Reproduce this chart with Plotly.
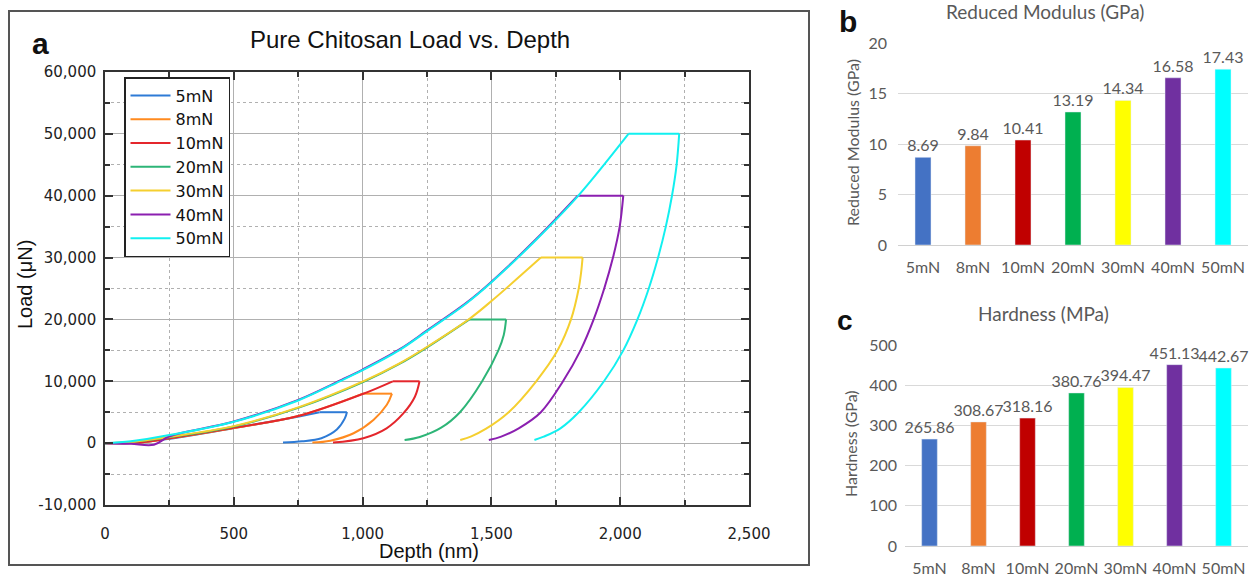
import plotly.graph_objects as go

W, H = 1255, 578

# ---------------- data: panel a (load vs depth) ----------------
series_names = ["5mN", "8mN", "10mN", "20mN", "30mN", "40mN", "50mN"]
line_colors = ["#2E7BD6", "#FF8A1F", "#E4262C", "#2DB577", "#F5CF2F", "#8B1FB0", "#12F0F0"]

d5_load = [0, 120, 252, 490, 700, 833]
p5_load = [0, 50, 700, 2350, 3900, 5000]
d5_unload = [939, 931, 900, 840, 765, 691]
p5_unload = [5000, 4000, 2200, 800, 300, 100]

d8_load = [0, 120, 252, 490, 750, 1001]
p8_load = [0, 50, 780, 2380, 4380, 8000]
d8_unload = [1114, 1094, 1042, 965, 875, 805]
p8_unload = [8000, 6200, 3750, 1600, 400, 100]

d10_load = [0, 120, 252, 490, 750, 1000, 1117]
p10_load = [0, 50, 800, 2400, 4400, 7950, 10000]
d10_unload = [1221, 1203, 1158, 1093, 1003, 885]
p10_unload = [10000, 7500, 4800, 2400, 800, 100]

d20_load = [0, 100, 250, 500, 750, 1008, 1143, 1240, 1415]
p20_load = [0, 180, 950, 2680, 5700, 10000, 12800, 15200, 20000]
d20_unload = [1557, 1548, 1527, 1464, 1378, 1305, 1222, 1163]
p20_unload = [20000, 17500, 15000, 10000, 5000, 2500, 1000, 500]

d30_load = [0, 100, 250, 500, 750, 1008, 1143, 1240, 1415, 1505, 1692]
p30_load = [0, 200, 1020, 2750, 5780, 10100, 12900, 15300, 20100, 23140, 30000]
d30_unload = [1854, 1848, 1839, 1809, 1757, 1674, 1567, 1478, 1422, 1379]
p30_unload = [30000, 27500, 25000, 20000, 15000, 10000, 5000, 2300, 1100, 500]

d40_load = [0, 100, 190, 250, 500, 750, 911, 1000, 1143, 1253, 1400, 1495, 1673, 1835]
p40_load = [0, -100, -250, 1100, 3500, 7000, 10100, 11900, 15150, 18300, 22600, 25900, 32950, 40000]
d40_unload = [2012, 1998, 1972, 1938, 1897, 1846, 1778, 1692, 1606, 1538, 1490]
p40_unload = [40000, 35000, 30000, 25000, 20000, 15000, 10000, 5000, 2400, 1050, 500]

d50_load = [0, 100, 250, 500, 750, 911, 1000, 1143, 1253, 1400, 1495, 1673, 1835, 2032]
p50_load = [0, 300, 1300, 3450, 6900, 10000, 11800, 15050, 18200, 22500, 25800, 32850, 39900, 50000]
d50_unload = [2229, 2219, 2201, 2177, 2147, 2111, 2067, 2012, 1937, 1839, 1768, 1703, 1667]
p50_unload = [50000, 45000, 40000, 35000, 30000, 25000, 20000, 15000, 10000, 5000, 2400, 1050, 500]

loads_d = [d5_load, d8_load, d10_load, d20_load, d30_load, d40_load, d50_load]
loads_p = [p5_load, p8_load, p10_load, p20_load, p30_load, p40_load, p50_load]
unloads_d = [d5_unload, d8_unload, d10_unload, d20_unload, d30_unload, d40_unload, d50_unload]
unloads_p = [p5_unload, p8_unload, p10_unload, p20_unload, p30_unload, p40_unload, p50_unload]

x_ticks = [0, 500, 1000, 1500, 2000, 2500]
y_ticks = [-10000, 0, 10000, 20000, 30000, 40000, 50000, 60000]
y_ticktext = ["-10,000", "0", "10,000", "20,000", "30,000", "40,000", "50,000", "60,000"]

# ---------------- data: panels b and c ----------------
categories = ["5mN", "8mN", "10mN", "20mN", "30mN", "40mN", "50mN"]
bar_colors = ["#4472C4", "#ED7D31", "#C00000", "#00B050", "#FFFF00", "#7030A0", "#00FFFF"]
reduced_modulus = [8.69, 9.84, 10.41, 13.19, 14.34, 16.58, 17.43]
hardness = [265.86, 308.67, 318.16, 380.76, 394.47, 451.13, 442.67]


def px_x(p):
    return p / W


def px_y(p):
    return 1 - p / H


fig = go.Figure()

for i, name in enumerate(series_names):
    ld, lp = loads_d[i], loads_p[i]
    ud, up = unloads_d[i], unloads_p[i]
    xs = ld + [None] + [ld[-1], ud[0]] + [None] + ud
    ys = lp + [None] + [lp[-1], up[0]] + [None] + up
    fig.add_trace(go.Scatter(
        x=xs, y=ys, mode="lines", name=name, connectgaps=False,
        line=dict(color=line_colors[i], width=2, shape="spline", smoothing=1.0),
        xaxis="x", yaxis="y",
    ))

for vals, xa, ya in [(reduced_modulus, "x2", "y2"), (hardness, "x3", "y3")]:
    fig.add_trace(go.Bar(
        x=categories, y=vals, marker_color=bar_colors, width=0.32,
        texttemplate="%{y:.2f}", textposition="outside", cliponaxis=False,
        constraintext="none",
        textfont=dict(family="Lato", size=16, color="#595959"),
        showlegend=False, xaxis=xa, yaxis=ya,
    ))

axis_a_common = dict(
    showline=True, linecolor="#333333", linewidth=1.5, mirror="ticks",
    ticks="inside", ticklen=8, tickwidth=1.5, tickcolor="#333333",
    showgrid=True, gridcolor="#b0b0b0", gridwidth=1, zeroline=False,
    tickfont=dict(family="DejaVu Sans", size=15, color="#222222"),
    automargin=False,
)

bar_tick_font = dict(family="Lato", size=16, color="#595959")

fig.update_layout(
    width=W, height=H,
    margin=dict(l=0, r=0, t=0, b=0, pad=0, autoexpand=False),
    paper_bgcolor="white", plot_bgcolor="white",
    showlegend=True,
    legend=dict(
        x=px_x(124), y=px_y(77), xanchor="left", yanchor="top",
        bgcolor="white", bordercolor="#222222", borderwidth=1.5,
        font=dict(family="DejaVu Sans", size=16, color="#111111"),
        tracegroupgap=0, itemwidth=40,
    ),
    xaxis=dict(
        domain=[px_x(105), px_x(749)], range=[0, 2500],
        tickmode="array", tickvals=x_ticks, tickformat=",",
        ticklabelstandoff=14,
        minor=dict(tickmode="array", tickvals=[250, 750, 1250, 1750, 2250],
                   ticks="inside", ticklen=5, tickcolor="#333333",
                   showgrid=True, gridcolor="#b0b0b0", griddash="dot"),
        anchor="y",
        **axis_a_common,
    ),
    yaxis=dict(
        domain=[px_y(505), px_y(72)], range=[-10000, 60000],
        tickmode="array", tickvals=y_ticks, ticktext=y_ticktext,
        ticklabelstandoff=4,
        minor=dict(tickmode="array",
                   tickvals=[-5000, 5000, 15000, 25000, 35000, 45000, 55000],
                   ticks="inside", ticklen=5, tickcolor="#333333",
                   showgrid=True, gridcolor="#b0b0b0", griddash="dot"),
        anchor="x",
        **axis_a_common,
    ),
    xaxis2=dict(
        domain=[px_x(898), px_x(1248)], anchor="y2", automargin=False,
        showline=True, linecolor="#d0d0d0", linewidth=1, ticks="",
        showgrid=False, ticklabelstandoff=8, tickfont=bar_tick_font,
    ),
    yaxis2=dict(
        domain=[px_y(245), px_y(43.3)], anchor="x2", range=[0, 20], dtick=5,
        automargin=False,
        showline=False, ticks="", showgrid=True, gridcolor="#d9d9d9",
        zeroline=False, ticklabelstandoff=10, tickfont=bar_tick_font,
    ),
    xaxis3=dict(
        domain=[px_x(905), px_x(1248)], anchor="y3", automargin=False,
        showline=True, linecolor="#d0d0d0", linewidth=1, ticks="",
        showgrid=False, ticklabelstandoff=8, tickfont=bar_tick_font,
    ),
    yaxis3=dict(
        domain=[px_y(546), px_y(345)], anchor="x3", range=[0, 500], dtick=100,
        automargin=False,
        showline=False, ticks="", showgrid=True, gridcolor="#d9d9d9",
        zeroline=False, ticklabelstandoff=7, tickfont=bar_tick_font,
    ),
)

# frame around panel a
fig.add_shape(type="rect", xref="paper", yref="paper",
              x0=px_x(9), x1=px_x(809), y0=px_y(565), y1=px_y(11),
              line=dict(color="#555555", width=2), layer="below")

annotations = [
    dict(text="Pure Chitosan Load vs. Depth", x=px_x(410), y=px_y(39),
         font=dict(family="Liberation Sans", size=24, color="#111111")),
    dict(text="<b>a</b>", x=px_x(40), y=px_y(43),
         font=dict(family="Liberation Sans", size=30, color="#111111")),
    dict(text="Depth (nm)", x=px_x(429), y=px_y(551),
         font=dict(family="Liberation Sans", size=20, color="#111111")),
    dict(text="Load (μN)", x=px_x(25), y=px_y(285), textangle=-90,
         font=dict(family="Liberation Sans", size=20, color="#111111")),
    dict(text="<b>b</b>", x=px_x(848), y=px_y(21),
         font=dict(family="Liberation Sans", size=30, color="#111111")),
    dict(text="Reduced Modulus (GPa)", x=px_x(1045), y=px_y(12),
         font=dict(family="Lato", size=19, color="#595959")),
    dict(text="Reduced Modulus (GPa)", x=px_x(852), y=px_y(143), textangle=-90,
         font=dict(family="Lato", size=16, color="#595959")),
    dict(text="<b>c</b>", x=px_x(845), y=px_y(320),
         font=dict(family="Liberation Sans", size=28, color="#111111")),
    dict(text="Hardness (MPa)", x=px_x(1043), y=px_y(313),
         font=dict(family="Lato", size=19, color="#595959")),
    dict(text="Hardness (GPa)", x=px_x(850), y=px_y(443), textangle=-90,
         font=dict(family="Lato", size=16, color="#595959")),
]
for a in annotations:
    a.update(xref="paper", yref="paper", showarrow=False,
             xanchor="center", yanchor="middle")
    fig.add_annotation(**a)

fig.write_html("out.html")
